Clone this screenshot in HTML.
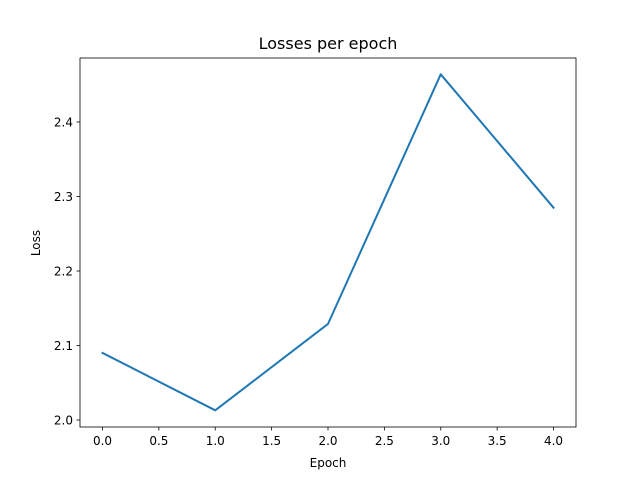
<!DOCTYPE html>
<html><head><meta charset="utf-8"><style>
body{margin:0;background:#fff;font-family:"Liberation Sans","DejaVu Sans",sans-serif}
text{font-family:"DejaVu Sans","Liberation Sans",sans-serif}
</style></head><body>
<svg id="chart" width="640" height="480">
<rect width="640" height="480" fill="#fff"/>
<text x="328" y="49" text-anchor="middle" font-size="16">Losses per epoch</text>
<text x="328" y="467" text-anchor="middle" font-size="12">Epoch</text>
<text x="40" y="243" text-anchor="middle" font-size="12" transform="rotate(-90 40 243)">Loss</text>
<g id="ticks"></g>
<path id="line" fill="none" stroke="#1f77b4" stroke-width="2" stroke-linejoin="round" stroke-linecap="square"/>
<rect x="80" y="58" width="496" height="369" fill="none" stroke="#000" stroke-width="0.8"/>
</svg>
<script>
const epochs = [0, 1, 2, 3, 4];
const losses = [2.090, 2.013, 2.129, 2.464, 2.285];
const xTicks = [0, 0.5, 1, 1.5, 2, 2.5, 3, 3.5, 4];
const yTicks = [2.0, 2.1, 2.2, 2.3, 2.4];
const xs = v => 102.5 + v * 112.75;
const ys = v => 420 - (v - 2.0) * 745;
const NS = "http://www.w3.org/2000/svg";
const g = document.getElementById('ticks');
function mk(tag, attrs, parent){const e=document.createElementNS(NS,tag);for(const k in attrs)e.setAttribute(k,attrs[k]);parent.appendChild(e);return e;}
xTicks.forEach(t=>{
  const x=xs(t);
  const l=mk('line',{x1:x,x2:x,y1:427,y2:430.5,stroke:'#000','stroke-width':0.8},g);
  
  
  const tx=mk('text',{x:x,y:445,'text-anchor':'middle','font-size':12},g);
  tx.textContent=t.toFixed(1);
  
  
});
yTicks.forEach(t=>{
  const y=ys(t);
  const l=mk('line',{x1:76.5,x2:80,y1:y,y2:y,stroke:'#000','stroke-width':0.8},g);
  
  
  const tx=mk('text',{x:73,y:y+4.5,'text-anchor':'end','font-size':12},g);
  tx.textContent=t.toFixed(1);
  
  
});
document.getElementById('line').setAttribute('d', epochs.map((e,i)=>(i?'L':'M')+xs(e)+' '+ys(losses[i])).join(' '));
</script>
</body></html>
